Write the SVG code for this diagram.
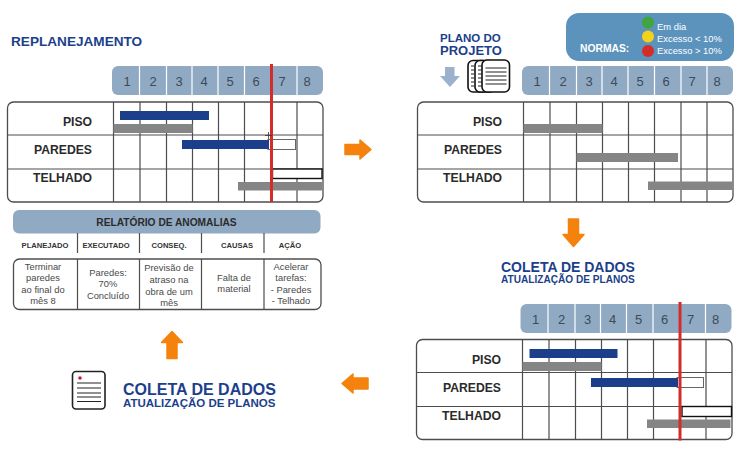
<svg xmlns="http://www.w3.org/2000/svg" width="738" height="452" viewBox="0 0 738 452">
<style>
text{font-family:"Liberation Sans",Arial,sans-serif}
.t{font-weight:700;fill:#1c3f8c}
.lab{font-weight:700;font-size:12.2px;fill:#2b2b2b;text-anchor:end}
.num{font-size:13px;fill:#3d4a58;text-anchor:middle}
.rh{font-weight:700;font-size:7.6px;fill:#333;text-anchor:middle}
.rc{font-size:9.4px;fill:#4a4a4a;text-anchor:middle}
.n{font-size:9.4px;fill:#fff}
.frame{fill:#fff;stroke:#4d4d4d;stroke-width:1.3}
.g{stroke:#4d4d4d;stroke-width:1.2;fill:none}
.band{fill:#91aac3}
.blue{fill:#1c3f8c}
.grey{fill:#858585}
.hollow{fill:#fff;stroke:#666;stroke-width:1}
.hollowk{fill:#fff;stroke:#111;stroke-width:1.4}
.red{stroke:#d42b2b;stroke-width:3;fill:none}
.arrow{fill:#f5820d;stroke:#f5820d;stroke-width:1.5;stroke-linejoin:round}
.page{fill:#fff;stroke:#111;stroke-width:1.6}
.ln{stroke:#222;stroke-width:1.2}
</style>
<defs>
<g id="head">
<rect x="0" y="0" width="211" height="29" rx="6" class="band"/>
<path d="M27.5 0v29M54.5 0v29M80 0v29M106 0v29M132.5 0v29M159 0v29M185 0v29" stroke="#fff" stroke-width="1.2"/>
</g>
<g id="table">
<rect x="0" y="0" width="315.5" height="100" rx="6" class="frame"/>
<path class="g" d="M0 33H315.5M0 67H315.5M106 0V100M132.500 0V100M159 0V100M185 0V100M211 0V100M237 0V100M263.500 0V100M289.500 0V100"/>
</g>
</defs>

<g id="chart-replanejamento">
<text class="t" x="11" y="46" font-size="13.6">REPLANEJAMENTO</text>
<use href="#head" x="112" y="66"/>
<text class="num" x="127" y="85.500">1</text><text class="num" x="153" y="85.500">2</text><text class="num" x="179" y="85.500">3</text><text class="num" x="204" y="85.500">4</text><text class="num" x="230" y="85.500">5</text><text class="num" x="256" y="85.500">6</text><text class="num" x="282" y="85.500">7</text><text class="num" x="307" y="85.500">8</text>
<use href="#table" x="7.500" y="102"/>
<text class="lab" x="92" y="126">PISO</text><text class="lab" x="92" y="154">PAREDES</text><text class="lab" x="92" y="182">TELHADO</text>
<rect class="blue" x="120" y="111" width="89" height="9"/>
<rect class="grey" x="113.500" y="124" width="79" height="9"/>
<rect class="hollow" x="268" y="139.500" width="27.500" height="10"/>
<rect class="blue" x="182" y="140" width="87" height="9"/>
<rect class="hollowk" x="272.500" y="169" width="49.500" height="9.500"/>
<rect class="grey" x="238" y="182" width="84" height="8.500"/>
<path class="red" d="M271.500 64V202"/>
<path d="M265 135.500h7M268.500 132v7" stroke="#333" stroke-width="0.8" fill="none"/>
</g>

<g id="normas">
<rect x="566" y="13" width="168" height="48" rx="13" fill="#5b93bd"/>
<circle cx="648" cy="22.500" r="6" fill="#3fa53f"/>
<circle cx="648" cy="36.500" r="6" fill="#f2d21b"/>
<circle cx="648" cy="51" r="6" fill="#d42b2b"/>
<text class="n" x="657" y="30">Em dia</text>
<text class="n" x="657" y="41.500">Excesso &lt; 10%</text>
<text class="n" x="657" y="54">Excesso &gt; 10%</text>
<text x="580" y="52" font-size="10.300" font-weight="700" fill="#fff">NORMAS:</text>
</g>

<g id="plano-do-projeto">
<text class="t" x="440" y="42" font-size="11.500">PLANO DO</text>
<text class="t" x="440" y="55" font-size="13">PROJETO</text>
<path d="M445 67h9.500v9h5.500l-10 11-10-11h5z" fill="#9ab2cb"/>
<rect class="page" x="468" y="60.500" width="20" height="31.500" rx="5"/>
<rect class="page" x="475" y="60.500" width="20" height="31.500" rx="5"/>
<rect class="page" x="482" y="60" width="27.500" height="32" rx="5"/>
<path class="ln" d="M471 66h3M471 70h3M471 74h3M471 78h3M471 82h3M471 86h3M478 66h4M478 70h4M478 74h4M478 78h4M478 82h4M478 86h4M485.500 68h21M485.500 72h21M485.500 76h21M485.500 80h21M485.500 84h21"/>
<use href="#head" x="522" y="66"/>
<text class="num" x="537" y="85.500">1</text><text class="num" x="563" y="85.500">2</text><text class="num" x="589" y="85.500">3</text><text class="num" x="614" y="85.500">4</text><text class="num" x="640" y="85.500">5</text><text class="num" x="666" y="85.500">6</text><text class="num" x="692" y="85.500">7</text><text class="num" x="717" y="85.500">8</text>
<use href="#table" x="417.500" y="102"/>
<text class="lab" x="502" y="126">PISO</text><text class="lab" x="502" y="154">PAREDES</text><text class="lab" x="502" y="182">TELHADO</text>
<rect class="grey" x="523.500" y="124" width="79" height="9"/>
<rect class="grey" x="576.500" y="153" width="101.500" height="9"/>
<rect class="grey" x="648" y="181.500" width="84" height="8.500"/>
</g>

<g id="coleta-direita">
<text class="t" x="501" y="272" font-size="14">COLETA DE DADOS</text>
<text class="t" x="501" y="283" font-size="10.100">ATUALIZAÇÃO DE PLANOS</text>
<use href="#head" x="520.500" y="304"/>
<text class="num" x="535.500" y="323.500">1</text><text class="num" x="561.500" y="323.500">2</text><text class="num" x="587.500" y="323.500">3</text><text class="num" x="612.500" y="323.500">4</text><text class="num" x="638.500" y="323.500">5</text><text class="num" x="664.500" y="323.500">6</text><text class="num" x="690.500" y="323.500">7</text><text class="num" x="715.500" y="323.500">8</text>
<use href="#table" x="416.500" y="339.500"/>
<text class="lab" x="501" y="364">PISO</text><text class="lab" x="501" y="392">PAREDES</text><text class="lab" x="501" y="420">TELHADO</text>
<rect class="blue" x="529.500" y="349" width="88" height="9"/>
<rect class="grey" x="522.500" y="362" width="79" height="9"/>
<rect class="hollow" x="677" y="377.500" width="26.500" height="10"/>
<rect class="blue" x="591" y="378" width="87" height="9"/>
<rect class="hollowk" x="682" y="406.500" width="49.500" height="10"/>
<rect class="grey" x="647" y="419.500" width="83.500" height="8.500"/>
<path class="red" d="M680 302V440.500"/>
</g>

<g id="relatorio">
<rect class="band" x="13" y="210" width="307.500" height="23.500" rx="6"/>
<text x="166.500" y="226" font-size="10.200" font-weight="700" fill="#2b2b2b" text-anchor="middle">RELATÓRIO DE ANOMALIAS</text>
<path class="g" d="M77.500 233V253M139.500 233V253M201.500 233V253M264 233V253"/>
<text class="rh" x="45" y="247.500">PLANEJADO</text><text class="rh" x="106" y="247.500">EXECUTADO</text><text class="rh" x="169" y="247.500">CONSEQ.</text><text class="rh" x="237" y="247.500">CAUSAS</text><text class="rh" x="290" y="247.500">AÇÃO</text>
<rect class="frame" x="13.500" y="259" width="307.500" height="50.500" rx="6"/>
<path class="g" d="M77.500 259V309.500M139.500 259V309.500M201.500 259V309.500M264 259V309.500"/>
<text class="rc" x="43" y="270">Terminar</text><text class="rc" x="43" y="281">paredes</text><text class="rc" x="43" y="293">ao final do</text><text class="rc" x="43" y="304">mês 8</text>
<text class="rc" x="108" y="276">Paredes:</text><text class="rc" x="108" y="287">70%</text><text class="rc" x="108" y="299">Concluído</text>
<text class="rc" x="169" y="271">Previsão de</text><text class="rc" x="169" y="283">atraso na</text><text class="rc" x="169" y="295">obra de um</text><text class="rc" x="169" y="306">mês</text>
<text class="rc" x="234" y="281">Falta de</text><text class="rc" x="234" y="292">material</text>
<text class="rc" x="291" y="270">Acelerar</text><text class="rc" x="291" y="281">tarefas:</text><text class="rc" x="291" y="293">- Paredes</text><text class="rc" x="291" y="304">- Telhado</text>
</g>

<g id="coleta-esquerda">
<rect x="72.500" y="371.500" width="32.500" height="37.500" rx="3.500" fill="#fff" stroke="#222" stroke-width="1.600"/>
<circle cx="80" cy="378" r="1.800" fill="#c8202c"/>
<path class="ln" d="M77 383h24M77 388h24M77 393h24M77 397h24M77 401.500h24"/>
<text class="t" x="123" y="395" font-size="16">COLETA DE DADOS</text>
<text class="t" x="123" y="407" font-size="11.500">ATUALIZAÇÃO DE PLANOS</text>
</g>

<g id="connectors">
<path class="arrow" d="M345 144.500h15v-4.500l11 9.500-11 9.500v-4.500h-15z"/>
<path class="arrow" d="M568.500 219h10v15.500h5.500l-10.500 12-10.500-12h5.500z"/>
<path class="arrow" d="M368 378h-15v-4l-11 9.500 11 9.500v-4h15z"/>
<path class="arrow" d="M167 358.500h10v-16h5.500l-10.500-11-10.500 11h5.500z"/>
</g>
</svg>
